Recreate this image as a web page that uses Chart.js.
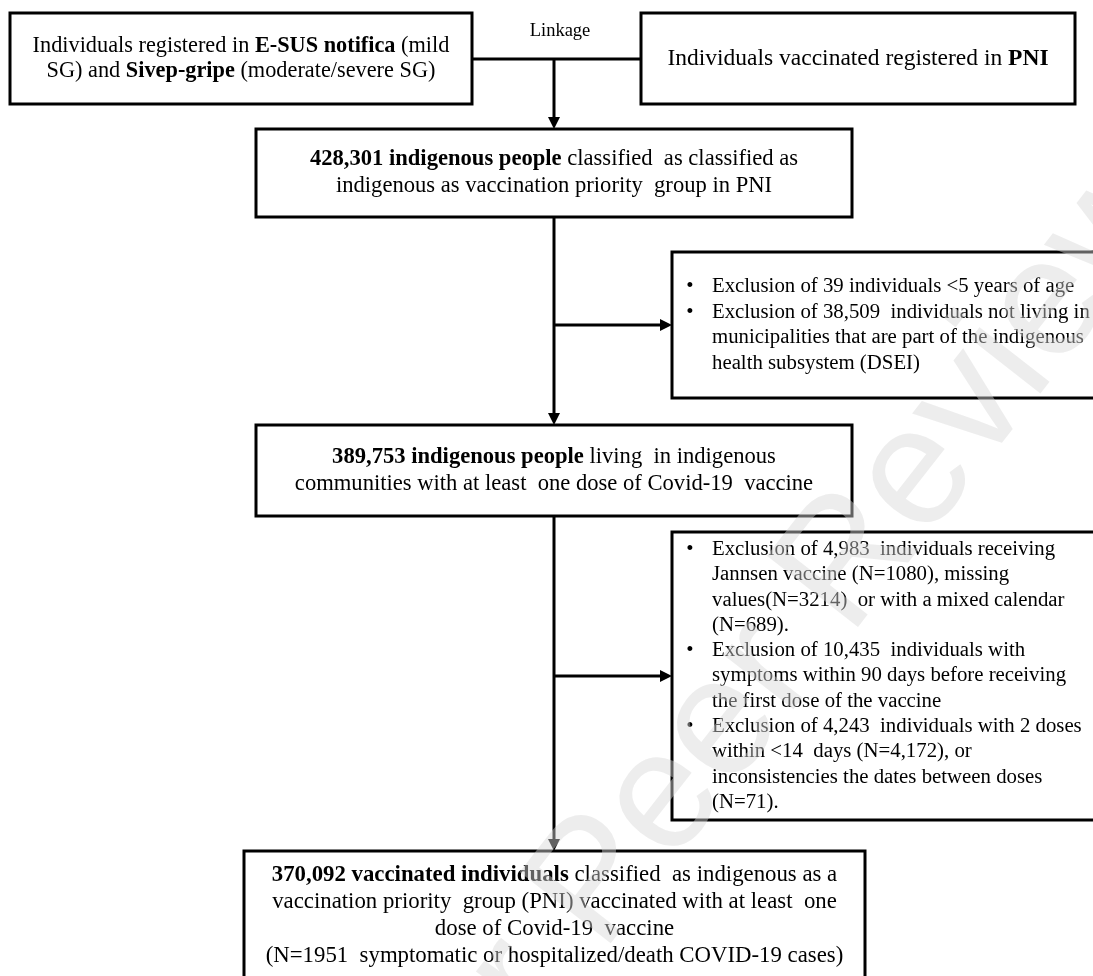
<!DOCTYPE html>
<html>
<head>
<meta charset="utf-8">
<script src="https://cdn.jsdelivr.net/npm/chart.js@4.4.1/dist/chart.umd.min.js"></script>
<style>
  html, body { margin: 0; padding: 0; background: #fff; }
  #wrap { width: 1093px; height: 976px; }
</style>
</head>
<body>
<div id="wrap"><canvas id="flowChart" width="1093" height="976"></canvas></div>
<script>
// Cohort sizes at each step and the numbers removed in between
const cohortCounts = [428301, 389753, 370092];
const firstExclusions = [39, 38509];
const secondExclusions = [4983, 10435, 4243];
const secondDetail = [1080, 3214, 689, 4172, 71];
const casesCount = 1951;

const fmt = (n) => n.toLocaleString("en-US");

// Box texts (**...** = bold)
const linkageLabel = "Linkage";
const sourceLeftLines = [
  "Individuals registered in **E-SUS notifica** (mild",
  "SG) and **Sivep-gripe** (moderate/severe SG)",
];
const sourceRightLines = ["Individuals vaccinated registered in **PNI**"];
const step1Lines = [
  `**${fmt(cohortCounts[0])} indigenous people** classified  as classified as`,
  "indigenous as vaccination priority  group in PNI",
];
const exclusion1Items = [
  [`Exclusion of ${firstExclusions[0]} individuals <5 years of age`],
  [
    `Exclusion of ${fmt(firstExclusions[1])}  individuals not living in`,
    "municipalities that are part of the indigenous",
    "health subsystem (DSEI)",
  ],
];
const step2Lines = [
  `**${fmt(cohortCounts[1])} indigenous people** living  in indigenous`,
  "communities with at least  one dose of Covid-19  vaccine",
];
const exclusion2Items = [
  [
    `Exclusion of ${fmt(secondExclusions[0])}  individuals receiving`,
    `Jannsen vaccine (N=${secondDetail[0]}), missing`,
    `values(N=${secondDetail[1]})  or with a mixed calendar`,
    `(N=${secondDetail[2]}).`,
  ],
  [
    `Exclusion of ${fmt(secondExclusions[1])}  individuals with`,
    "symptoms within 90 days before receiving",
    "the first dose of the vaccine",
  ],
  [
    `Exclusion of ${fmt(secondExclusions[2])}  individuals with 2 doses`,
    `within <14  days (N=${fmt(secondDetail[3])}), or`,
    "inconsistencies the dates between doses",
    `(N=${secondDetail[4]}).`,
  ],
];
const finalLines = [
  `**${fmt(cohortCounts[2])} vaccinated individuals** classified  as indigenous as a`,
  "vaccination priority  group (PNI) vaccinated with at least  one",
  "dose of Covid-19  vaccine",
  `(N=${casesCount}  symptomatic or hospitalized/death COVID-19 cases)`,
];
const watermarkText = "For Peer Review";

// layout (in axis units, 1 unit = 1 px)
const boxes = [
  { x0: 10, x1: 472, y0: 13, y1: 104, lines: sourceLeftLines, lh: 25, size: 22.3 },
  { x0: 641, x1: 1075, y0: 13, y1: 104, lines: sourceRightLines, lh: 25, size: 23.5 },
  { x0: 256, x1: 852, y0: 129, y1: 217, lines: step1Lines, lh: 27, size: 22.6 },
  { x0: 672, x1: 1110, y0: 252, y1: 398, items: exclusion1Items, lh: 25.5, size: 20.8 },
  { x0: 256, x1: 852, y0: 425, y1: 516, lines: step2Lines, lh: 27, size: 22.6 },
  { x0: 672, x1: 1110, y0: 532, y1: 820, items: exclusion2Items, lh: 25.3, size: 20.8 },
  { x0: 244, x1: 865, y0: 851, y1: 1000, lines: finalLines, lh: 27, size: 22.8, firstY: 875 },
];
const spineX = 554;
const linkY = 59;
const FONT = "'Liberation Serif', 'Times New Roman', serif";

function splitBold(line) {
  const parts = line.split("**");
  return parts.map((t, i) => ({ text: t, bold: i % 2 === 1 })).filter((p) => p.text);
}

function drawRich(ctx, line, x, y, align, size) {
  const segs = splitBold(line);
  let total = 0;
  segs.forEach((s) => {
    ctx.font = (s.bold ? "bold " : "") + size + "px " + FONT;
    s.w = ctx.measureText(s.text).width;
    total += s.w;
  });
  let cx = align === "center" ? x - total / 2 : x;
  ctx.textAlign = "left";
  ctx.textBaseline = "middle";
  segs.forEach((s) => {
    ctx.font = (s.bold ? "bold " : "") + size + "px " + FONT;
    ctx.fillText(s.text, cx, y);
    cx += s.w;
  });
}

const flowPlugin = {
  id: "flow",
  afterDraw(chart) {
    const ctx = chart.ctx;
    const px = (v) => chart.scales.x.getPixelForValue(v);
    const py = (v) => chart.scales.y.getPixelForValue(v);
    ctx.save();
    ctx.strokeStyle = "#000";
    ctx.fillStyle = "#000";
    ctx.lineWidth = 3;

    function line(x0, y0, x1, y1) {
      ctx.beginPath();
      ctx.moveTo(px(x0), py(y0));
      ctx.lineTo(px(x1), py(y1));
      ctx.stroke();
    }
    function arrowDown(x, y0, y1) {
      line(x, y0, x, y1 - 9);
      ctx.beginPath();
      ctx.moveTo(px(x), py(y1));
      ctx.lineTo(px(x - 6), py(y1 - 12));
      ctx.lineTo(px(x + 6), py(y1 - 12));
      ctx.closePath();
      ctx.fill();
    }
    function arrowRight(x0, x1, y) {
      line(x0, y, x1 - 9, y);
      ctx.beginPath();
      ctx.moveTo(px(x1), py(y));
      ctx.lineTo(px(x1 - 12), py(y - 6));
      ctx.lineTo(px(x1 - 12), py(y + 6));
      ctx.closePath();
      ctx.fill();
    }

    // connectors
    line(boxes[0].x1, linkY, boxes[1].x0, linkY);
    arrowDown(spineX, linkY, boxes[2].y0);
    arrowDown(spineX, boxes[2].y1, boxes[4].y0);
    arrowRight(spineX, boxes[3].x0, (boxes[3].y0 + boxes[3].y1) / 2);
    arrowDown(spineX, boxes[4].y1, boxes[6].y0);
    arrowRight(spineX, boxes[5].x0, (boxes[5].y0 + boxes[5].y1) / 2);

    ctx.fillStyle = "#000";
    drawRich(ctx, linkageLabel, px(560), py(31), "center", 18.5);

    boxes.forEach((b) => {
      const x0 = px(b.x0), x1 = px(b.x1), y0 = py(b.y0), y1 = py(b.y1);
      ctx.fillStyle = "#fff";
      ctx.fillRect(x0, y0, x1 - x0, y1 - y0);
      ctx.lineWidth = 3;
      ctx.strokeRect(x0, y0, x1 - x0, y1 - y0);
      ctx.fillStyle = "#000";
      if (b.lines) {
        const n = b.lines.length;
        const start = b.firstY !== undefined ? b.firstY : (b.y0 + b.y1) / 2 - ((n - 1) * b.lh) / 2;
        const cx = (b.x0 + b.x1) / 2;
        b.lines.forEach((l, i) => drawRich(ctx, l, px(cx), py(start + i * b.lh), "center", b.size));
      } else {
        const n = b.items.reduce((a, it) => a + it.length, 0);
        let y = (b.y0 + b.y1) / 2 - ((n - 1) * b.lh) / 2;
        b.items.forEach((it) => {
          drawRich(ctx, "•", px(b.x0 + 18), py(y), "center", b.size);
          it.forEach((l) => {
            drawRich(ctx, l, px(b.x0 + 40), py(y), "left", b.size);
            y += b.lh;
          });
        });
      }
    });

    // watermark
    ctx.translate(px(767), py(668));
    ctx.rotate((-52 * Math.PI) / 180);
    ctx.font = "168px 'Liberation Sans', Arial, sans-serif";
    ctx.fillStyle = "rgba(215,215,215,0.45)";
    ctx.textAlign = "center";
    ctx.textBaseline = "middle";
    ctx.fillText(watermarkText, 0, 0);
    ctx.restore();
  },
};

const ctx = document.getElementById("flowChart").getContext("2d");
const flowChart = new Chart(ctx, {
  type: "scatter",
  data: { datasets: [{ data: [], pointRadius: 0 }] },
  options: {
    responsive: false,
    animation: false,
    devicePixelRatio: 1,
    layout: { padding: 0 },
    plugins: { legend: { display: false }, tooltip: { enabled: false } },
    scales: {
      x: { type: "linear", min: 0, max: 1093, display: false },
      y: { type: "linear", min: 0, max: 976, reverse: true, display: false },
    },
  },
  plugins: [flowPlugin],
});
</script>
</body>
</html>
